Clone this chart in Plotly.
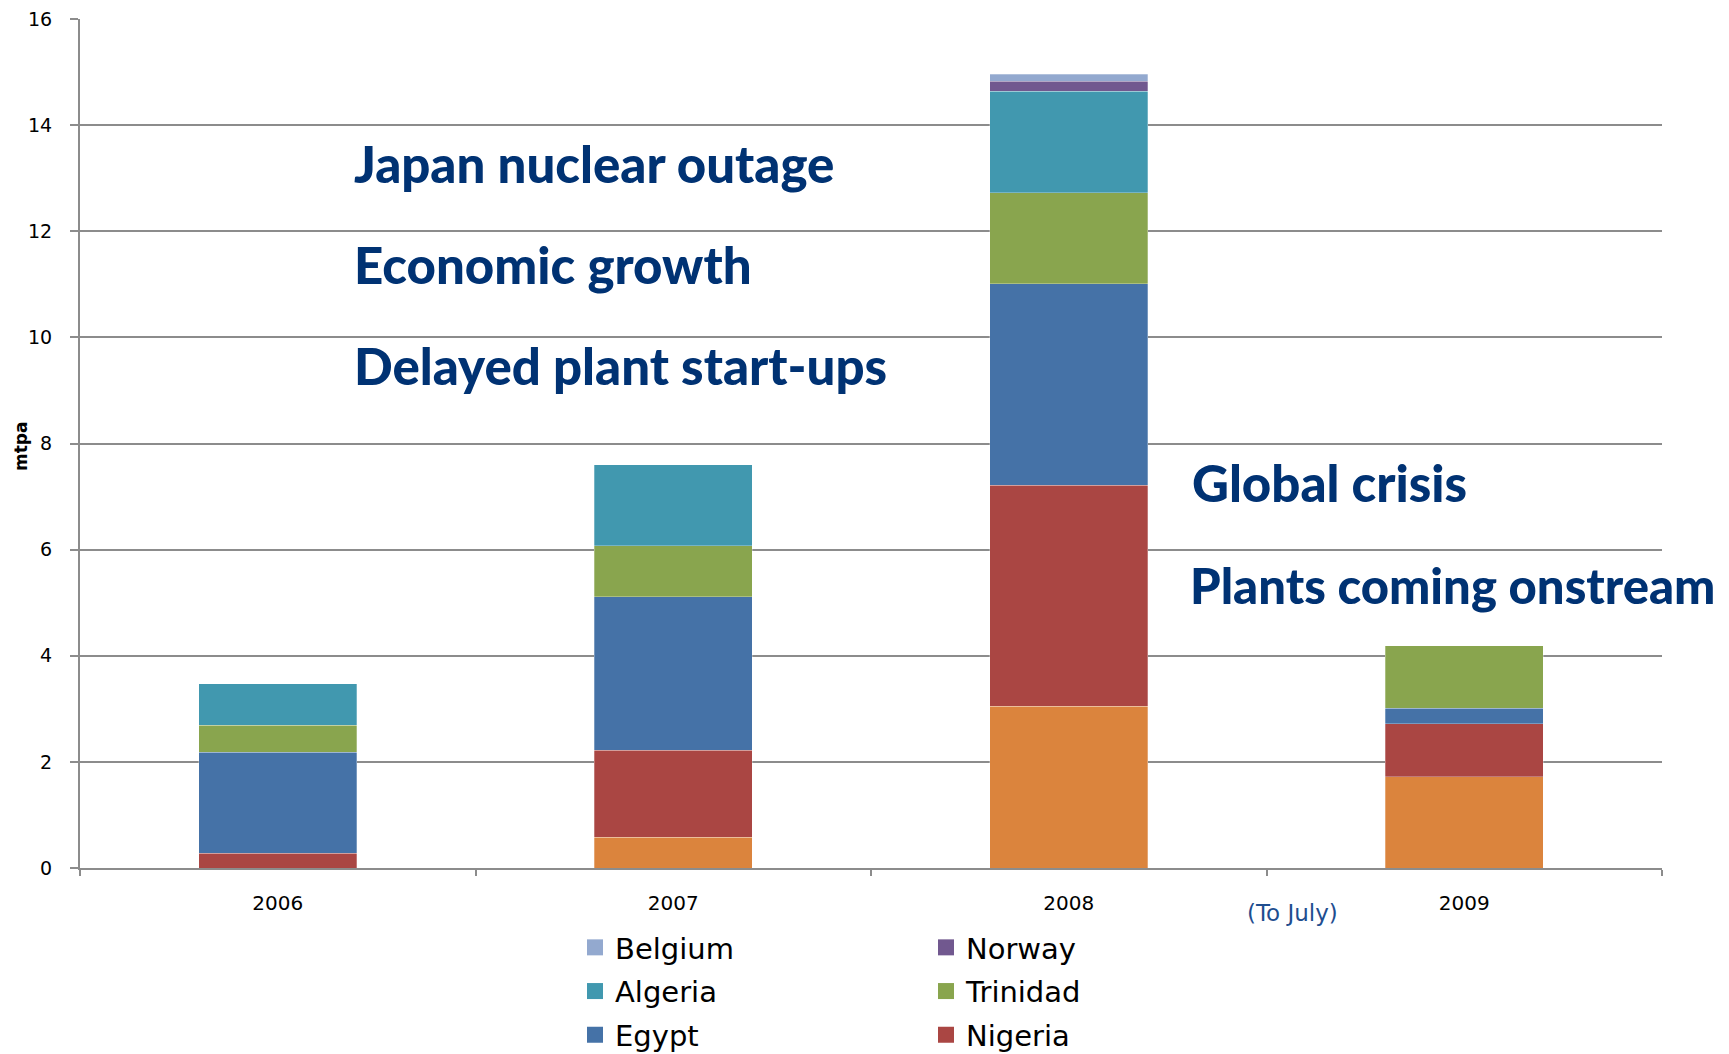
import plotly.graph_objects as go

years = ["2006", "2007", "2008", "2009"]
eq_guinea = [0.0, 0.58, 3.05, 1.72]
nigeria = [0.28, 1.64, 4.16, 1.00]
egypt = [1.90, 2.89, 3.80, 0.29]
trinidad = [0.51, 0.96, 1.72, 1.18]
algeria = [0.78, 1.53, 1.91, 0.0]
norway = [0.0, 0.0, 0.19, 0.0]
belgium = [0.0, 0.0, 0.13, 0.0]
y_ticks = [0, 2, 4, 6, 8, 10, 12, 14, 16]

W, H = 1729, 1054
OFF = 8  # page body margin
# plot area in page pixels
PX0, PX1, PY0, PY1 = 80, 1662, 19, 868
L = PX0 - OFF
R = W - (PX1 - OFF)
T = PY0 - OFF
B = H - (PY1 - OFF)
pw, ph = PX1 - PX0, PY1 - PY0


def px(x):
    return (x - PX0) / pw


def py(y):
    return (PY1 - y) / ph


series = [
    ("Equatorial Guinea", eq_guinea, "#DB843D", None, 0),
    ("Nigeria", nigeria, "#AA4643", "legend2", 3),
    ("Egypt", egypt, "#4572A7", "legend", 3),
    ("Trinidad", trinidad, "#89A54E", "legend2", 2),
    ("Algeria", algeria, "#4198AF", "legend", 2),
    ("Norway", norway, "#71588F", "legend2", 1),
    ("Belgium", belgium, "#93A9CF", "legend", 1),
]

fig = go.Figure()
for name, vals, col, leg, rank in series:
    fig.add_trace(go.Bar(
        x=years, y=vals, name=name, showlegend=False, legendgroup=name,
        marker=dict(color=col, line=dict(color="rgba(255,255,255,0.35)", width=0.8)),
    ))
# legend entries with larger square swatches
for name, vals, col, leg, rank in series:
    if leg is None:
        continue
    fig.add_trace(go.Scatter(
        x=[None], y=[None], mode="markers", name=name, legend=leg, legendgroup=name,
        legendrank=rank, marker=dict(symbol="square", size=16, color=col),
    ))

navy = "#003273"
ann = [
    ("Japan nuclear outage", 352, 163, 51),
    ("Economic growth", 352, 264, 51),
    ("Delayed plant start-ups", 352, 365, 51),
    ("Global crisis", 1190, 482, 51),
    ("Plants coming onstream", 1188, 585, 49),
]
annotations = []
for txt, x, y, fs in ann:
    annotations.append(dict(text=txt, x=px(x), y=py(y), xref="paper", yref="paper",
                            xanchor="left", yanchor="middle", showarrow=False,
                            font=dict(family="Lato", size=fs, color=navy, weight=900)))
annotations.append(dict(text="(To July)", x=px(1292), y=py(913), xref="paper", yref="paper",
                        xanchor="center", yanchor="middle", showarrow=False,
                        font=dict(family="DejaVu Sans", size=23, color="#1F4E8F")))
annotations.append(dict(text="<b>mtpa</b>", x=px(21), y=py(447), xref="paper", yref="paper",
                        xanchor="center", yanchor="middle", showarrow=False, textangle=-90,
                        font=dict(family="DejaVu Sans", size=17, color="#000000")))

leg_font = dict(family="DejaVu Sans", size=29, color="#000000")
fig.update_layout(
    width=W, height=H,
    margin=dict(l=L, r=R, t=T, b=B, autoexpand=False),
    barmode="stack", bargap=0.6,
    plot_bgcolor="white", paper_bgcolor="white",
    font=dict(family="DejaVu Sans", color="#000000"),
    annotations=annotations,
    legend=dict(x=px(575), y=py(922), xanchor="left", yanchor="top", orientation="v",
                traceorder="grouped", tracegroupgap=3, font=leg_font, itemsizing="trace",
                bgcolor="rgba(0,0,0,0)"),
    legend2=dict(x=px(926), y=py(922), xanchor="left", yanchor="top", orientation="v",
                 traceorder="grouped", tracegroupgap=3, font=leg_font, itemsizing="trace",
                 bgcolor="rgba(0,0,0,0)"),
    xaxis=dict(type="category", showgrid=False, showline=True, linecolor="#8C8C8C", linewidth=2,
               ticks="outside", tickson="boundaries", ticklen=6, tickcolor="#8C8C8C", tickwidth=2,
               tickfont=dict(family="DejaVu Sans", size=20, color="#000000"), ticklabelstandoff=16),
    yaxis=dict(range=[0, 16], tickvals=y_ticks, showgrid=True, gridcolor="#8C8C8C", gridwidth=1.5,
               showline=True, linecolor="#8C8C8C", linewidth=2, ticks="outside", ticklen=8,
               tickcolor="#8C8C8C", tickwidth=2, zeroline=False, ticklabelstandoff=14,
               ticklabeloverflow="allow",
               tickfont=dict(family="DejaVu Sans", size=19, color="#000000")),
)
fig.write_html("out.html")
